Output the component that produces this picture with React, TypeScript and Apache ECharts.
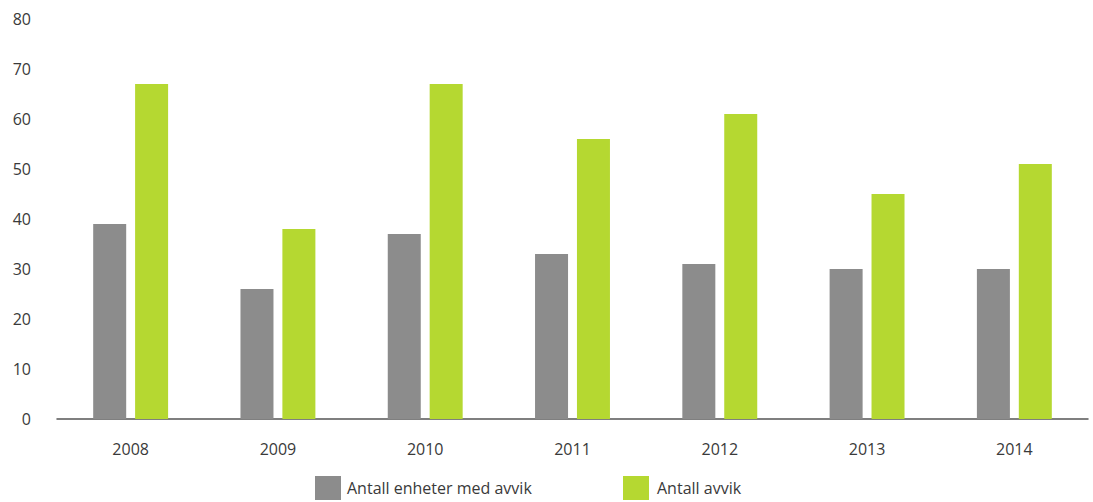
import React, { useEffect, useRef } from "react";
import * as echarts from "echarts";

const categories = ["2008", "2009", "2010", "2011", "2012", "2013", "2014"];
const enheterMedAvvik = [39, 26, 37, 33, 31, 30, 30];
const antallAvvik = [67, 38, 67, 56, 61, 45, 51];
const yTicks = { min: 0, max: 80, interval: 10 };

export default function App() {
  const ref = useRef<HTMLDivElement>(null);
  useEffect(() => {
    document.body.style.margin = "0";
    const chart = echarts.init(ref.current!, null, { renderer: "svg" });
    const font = "'Open Sans', sans-serif";
    const txt = { fontSize: 16, color: "#3a3a3a", fontFamily: font };
    chart.setOption({
      animation: false,
      textStyle: { fontFamily: font },
      grid: { left: 57, right: 5, top: 19, bottom: 83 },
      legend: [
        {
          data: ["Antall enheter med avvik"],
          left: 315,
          top: 476,
          itemWidth: 26,
          itemHeight: 24,
          itemGap: 6,
          icon: "rect",
          padding: 0,
          textStyle: { ...txt, padding: [0, 0, 0, 1] },
        },
        {
          data: ["Antall avvik"],
          left: 623,
          top: 476,
          itemWidth: 26,
          itemHeight: 24,
          icon: "rect",
          padding: 0,
          textStyle: { ...txt, padding: [0, 0, 0, 3] },
        },
      ],
      xAxis: {
        type: "category",
        data: categories,
        axisLine: { lineStyle: { color: "#555", width: 1.5 } },
        axisTick: { show: false },
        axisLabel: { ...txt, margin: 22 },
      },
      yAxis: {
        type: "value",
        min: yTicks.min,
        max: yTicks.max,
        interval: yTicks.interval,
        splitLine: { show: false },
        axisLine: { show: false },
        axisTick: { show: false },
        axisLabel: { ...txt, margin: 26 },
      },
      series: [
        {
          name: "Antall enheter med avvik",
          type: "bar",
          data: enheterMedAvvik,
          barWidth: 33,
          barGap: "27%",
          itemStyle: { color: "#8c8c8c" },
        },
        {
          name: "Antall avvik",
          type: "bar",
          data: antallAvvik,
          barWidth: 33,
          itemStyle: { color: "#b5d831" },
        },
      ],
    });
    return () => chart.dispose();
  }, []);
  return <div ref={ref} style={{ width: 1093, height: 502 }} />;
}
